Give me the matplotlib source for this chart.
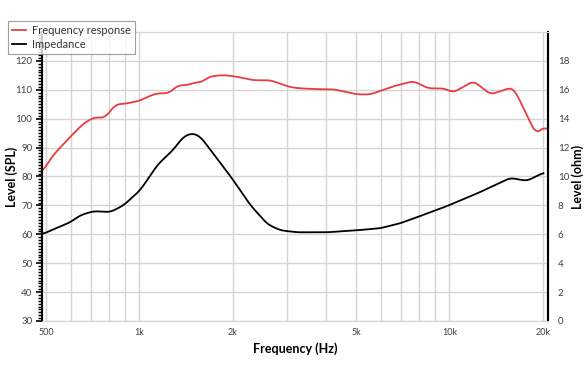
import numpy as np
import matplotlib
matplotlib.use("Agg")
import matplotlib.pyplot as plt
from matplotlib.ticker import FixedLocator, MultipleLocator, NullFormatter, NullLocator

plt.rcParams['font.family'] = ['Lato', 'DejaVu Sans']

# frequency response (dB SPL)
spl_freq = [485, 528, 599, 660, 711, 777, 794, 837, 915, 1007, 1069, 1143, 1240,
            1336, 1428, 1516, 1596, 1657, 1785, 1924, 2117, 2330, 2645, 3068,
            3304, 3777, 4223, 5048, 5556, 6592, 7646, 8551, 9567, 10303, 11962,
            13580, 15530, 16120, 17360, 18970, 20400, 20850]
spl_db = [81.5, 87.5, 93.8, 98.3, 100.4, 100.4, 101.8, 104.9, 105.3, 106.3, 107.7,
          108.8, 108.8, 111.6, 111.6, 112.6, 112.6, 114.3, 115.0, 115.0, 114.3,
          113.3, 113.3, 110.9, 110.5, 110.2, 110.2, 108.4, 108.4, 111.2, 113.0,
          110.5, 110.5, 109.1, 113.0, 108.4, 110.5, 110.5, 103.6, 94.8, 97.3, 96.2]

# impedance (ohm)
imp_freq = [485, 599, 645, 711, 806, 888, 1007, 1143, 1287, 1387, 1482, 1573, 1732,
            1994, 2280, 2589, 2845, 3219, 4036, 5048, 5980, 6933, 8036, 9840,
            12560, 15700, 17800, 20100]
imp_ohm = [6.0, 6.84, 7.32, 7.6, 7.54, 8.0, 9.06, 10.8, 11.86, 12.76, 13.0, 12.76,
           11.58, 9.84, 8.02, 6.7, 6.28, 6.14, 6.14, 6.28, 6.42, 6.76, 7.26, 7.96,
           8.92, 9.9, 9.7, 10.26]

x_major = [500, 1000, 2000, 5000, 10000, 20000]
x_labels = ['500', '1k', '2k', '5k', '10k', '20k']
x_minor = [600, 700, 800, 900, 3000, 4000, 6000, 7000, 8000, 9000]

red = '#e63c42'
grid_c = '#d4d4d4'
lab_c = '#404040'

fig = plt.figure(figsize=(5.88, 3.72), dpi=100)
ax = fig.add_axes([42/588, 1-321/372, (548-42)/588, (321-32)/372])
ax2 = ax.twinx()

# light smoothing in log-frequency
def smooth(fr, vals):
    lf = np.log10(fr)
    xs = np.linspace(lf[0], lf[-1], 600)
    ys = np.interp(xs, lf, vals)
    k = 5
    pad = np.pad(ys, k, mode='edge')
    ys = np.convolve(pad, np.ones(2*k+1)/(2*k+1), mode='same')[k:-k]
    return 10**xs, ys

fx, fy = smooth(spl_freq, spl_db)
ix, iy = smooth(imp_freq, imp_ohm)
l1, = ax.plot(fx, fy, color=red, lw=1.3, label='Frequency response')
l2, = ax2.plot(ix, iy, color='black', lw=1.3, label='Impedance')

ax.set_xscale('log')
ax.set_xlim(485, 20800)
ax.set_ylim(30, 130)
ax2.set_ylim(0, 20)

ax.xaxis.set_major_locator(FixedLocator(x_major))
ax.set_xticklabels(x_labels)
ax.xaxis.set_minor_locator(FixedLocator(x_minor))
ax.xaxis.set_minor_formatter(NullFormatter())
ax.tick_params(axis='x', which='both', length=0, pad=5, labelsize=6.5, labelcolor=lab_c)

ax.yaxis.set_major_locator(FixedLocator(range(30, 121, 10)))
ax.yaxis.set_minor_locator(MultipleLocator(1))
ax.tick_params(axis='y', which='both', right=False)
ax.tick_params(axis='y', which='major', length=4, width=1.2, color='black',
               labelsize=7, labelcolor=lab_c, pad=3)
ax.tick_params(axis='y', which='minor', length=3, width=1.0, color='black')

ax2.yaxis.set_major_locator(FixedLocator(range(0, 19, 2)))
ax2.yaxis.set_minor_locator(NullLocator())
ax2.tick_params(axis='y', length=0, pad=7, labelsize=7, labelcolor=lab_c)

ax.grid(axis='x', which='both', color=grid_c, lw=1)
ax.grid(axis='y', which='major', color=grid_c, lw=1)
ax.set_axisbelow(True)

for a in (ax, ax2):
    a.spines['top'].set_color(grid_c)
    a.spines['bottom'].set_color(grid_c)
    a.spines['left'].set_color('black')
    a.spines['right'].set_color('black')
    a.spines['left'].set_linewidth(1.5)
    a.spines['right'].set_linewidth(1.5)

ax.set_xlabel('Frequency (Hz)', fontsize=9, fontweight='bold')
ax.xaxis.set_label_coords(0.5, (321-342)/289)
ax.set_ylabel('Level (SPL)', fontsize=9, fontweight='bold')
ax.yaxis.set_label_coords((18-42)/506, 0.5)
ax2.set_ylabel('Level (ohm)', fontsize=9, fontweight='bold')
ax2.yaxis.set_label_coords((571-42)/506, 0.5)

leg = fig.legend(handles=[l1, l2], loc='upper left', bbox_to_anchor=(8/588, 1-21/372),
                 fontsize=8, frameon=True, fancybox=False, borderpad=0.35,
                 handlelength=1.3, handletextpad=0.5, labelspacing=0.25,
                 borderaxespad=0)
leg.get_frame().set_edgecolor('#888888')
leg.get_frame().set_linewidth(0.8)
for t in leg.get_texts():
    t.set_color('#333333')

fig.savefig('out.png', dpi=100)
